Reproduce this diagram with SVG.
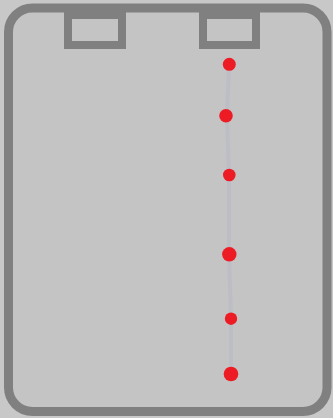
<svg xmlns="http://www.w3.org/2000/svg" width="333" height="418" viewBox="0 0 333 418">
<style>
.frame{fill:#c4c4c4;stroke:#808080;stroke-width:9}
.slot{fill:#c4c4c4;stroke:#808080;stroke-width:8}
.dot{fill:#ed1c24}
.track{stroke:#bdbdc6;stroke-width:4;fill:none}
</style>
<rect x="0" y="0" width="333" height="418" fill="#c8c8c8"/>
<g id="frame"><rect class="frame" x="8.5" y="8" width="318.5" height="403.5" rx="24" ry="24"/></g>
<g id="slot-left"><rect class="slot" x="68" y="15" width="54" height="30"/></g>
<g id="slot-right"><rect class="slot" x="203" y="15" width="53" height="30"/></g>
<g id="connectors"><path class="track" d="M229 64 L227 116 L229 175 L229 254 L231 319 L231 374"/></g>
<g id="dot1"><circle class="dot" cx="229.3" cy="64.3" r="6.5"/></g>
<g id="dot2"><circle class="dot" cx="226" cy="115.7" r="6.8"/></g>
<g id="dot3"><circle class="dot" cx="229.3" cy="175" r="6.3"/></g>
<g id="dot4"><circle class="dot" cx="229.3" cy="254.3" r="7.2"/></g>
<g id="dot5"><circle class="dot" cx="231" cy="318.7" r="6.2"/></g>
<g id="dot6"><circle class="dot" cx="231" cy="374" r="7.3"/></g>
</svg>
